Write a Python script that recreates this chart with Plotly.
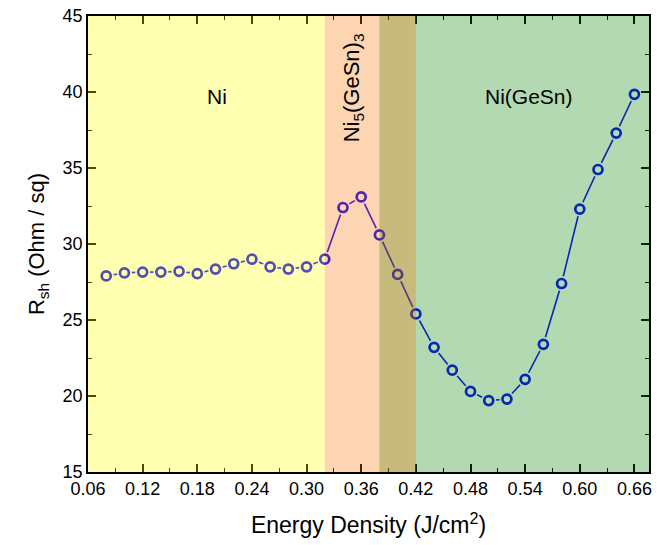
import plotly.graph_objects as go

energy = [0.08, 0.10, 0.12, 0.14, 0.16, 0.18, 0.20, 0.22, 0.24, 0.26,
          0.28, 0.30, 0.32, 0.34, 0.36, 0.38, 0.40, 0.42, 0.44, 0.46,
          0.48, 0.50, 0.52, 0.54, 0.56, 0.58, 0.60, 0.62, 0.64, 0.66]
rsh = [27.9, 28.1, 28.15, 28.15, 28.2, 28.05, 28.35, 28.7, 29.0, 28.5,
       28.35, 28.5, 29.0, 32.4, 33.1, 30.6, 28.0, 25.4, 23.2, 21.7,
       20.3, 19.7, 19.8, 21.1, 23.4, 27.4, 32.3, 34.9, 37.3, 39.85]

regions = [  # (x0, x1, rgba) drawn in this order
    (0.06, 0.32, "rgba(255,255,0,0.3)"),
    (0.38, 0.676, "rgba(0,128,0,0.3)"),
    (0.32, 0.42, "rgba(248,115,0,0.3)"),
]
x_range = [0.06, 0.676]
y_range = [15, 45]
blue = "rgb(10,0,255)"
font = "Liberation Sans, Arial, sans-serif"

fig = go.Figure()
fig.add_trace(go.Scatter(x=energy, y=rsh, mode="lines",
                         line=dict(color=blue, width=1.6), hoverinfo="skip"))
# white halos create the gap around each marker (tinted later by overlays)
fig.add_trace(go.Scatter(x=energy, y=rsh, mode="markers",
                         marker=dict(symbol="circle", size=15, color="white",
                                     line=dict(width=0)), hoverinfo="skip"))
fig.add_trace(go.Scatter(x=energy, y=rsh, mode="markers",
                         marker=dict(symbol="circle", size=9, color="white",
                                     line=dict(color=blue, width=2.7))))

for x0, x1, c in regions:
    fig.add_shape(type="rect", xref="x", yref="paper", x0=x0, x1=x1, y0=0, y1=1,
                  fillcolor=c, line=dict(width=0), layer="above")

fig.add_annotation(x=0.202, y=39.7, text="Ni", showarrow=False,
                   font=dict(family=font, size=21, color="black"))
fig.add_annotation(x=0.544, y=39.7, text="Ni(GeSn)", showarrow=False,
                   font=dict(family=font, size=21, color="black"))
fig.add_annotation(x=0.352, y=40.3, text="Ni<sub>5</sub>(GeSn)<sub>3</sub>",
                   textangle=-90, showarrow=False,
                   font=dict(family=font, size=22, color="black"))

axis_common = dict(showline=True, linecolor="black", linewidth=1.5, mirror="allticks",
                   ticks="inside", ticklen=8, tickwidth=1.5, tickcolor="black",
                   showgrid=False, zeroline=False,
                   tickfont=dict(family=font, size=18, color="black"))

fig.update_xaxes(range=x_range, tick0=0.06, dtick=0.06, tickformat=".2f",
                 minor=dict(ticks="inside", ticklen=4, tickwidth=1.3, dtick=0.03,
                            tick0=0.06, tickcolor="black"),
                 title=dict(text="Energy Density (J/cm<sup>2</sup>)",
                            font=dict(family=font, size=23, color="black"), standoff=19),
                 **axis_common)
fig.update_yaxes(range=y_range, tick0=15, dtick=5,
                 minor=dict(ticks="inside", ticklen=4, tickwidth=1.3, dtick=2.5,
                            tick0=15, tickcolor="black"),
                 title=dict(text="R<sub>sh</sub> (Ohm / sq)",
                            font=dict(family=font, size=22, color="black"), standoff=12),
                 **axis_common)

fig.update_layout(width=657, height=545, showlegend=False,
                  margin=dict(l=88, r=5, t=16, b=73),
                  paper_bgcolor="white", plot_bgcolor="white")

fig.write_html("out.html")
